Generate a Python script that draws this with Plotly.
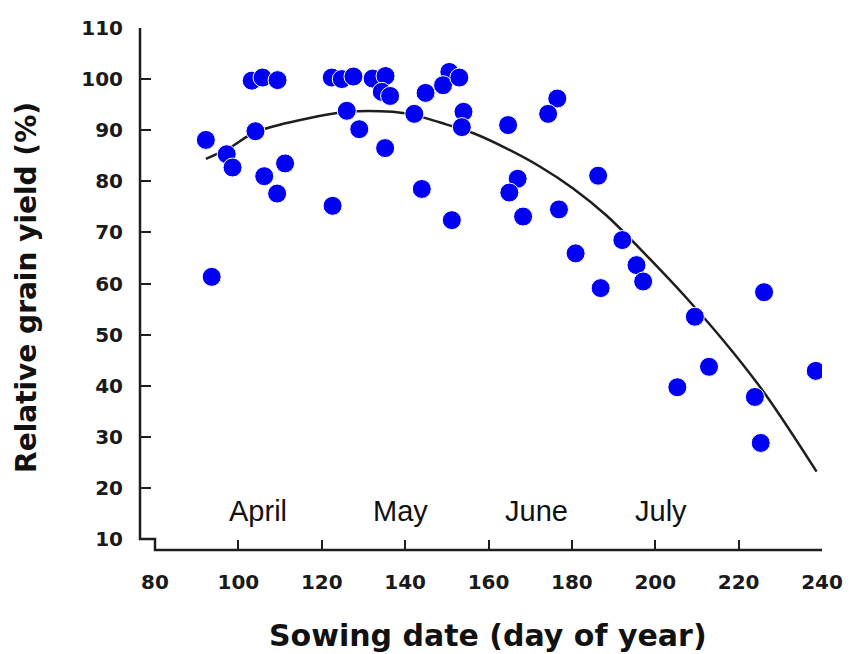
import plotly.graph_objects as go

# ---- data ----
sowing_day = [92.2, 93.6, 97.2, 98.6, 103.2, 105.8, 109.4, 104.1, 106.2, 111.2,
              109.3, 122.6, 122.4, 124.8, 127.6, 126.0, 129.0, 132.2, 135.3, 134.4,
              136.4, 135.2, 144.9, 142.2, 144.0, 150.6, 149.1, 153.0, 154.0, 153.6,
              151.2, 164.7, 176.5, 174.3, 167.0, 165.0, 168.3, 176.9, 186.3, 180.9,
              186.9, 192.1, 195.5, 197.1, 209.5, 205.3, 212.9, 223.9, 225.3, 226.1,
              238.5]
rel_yield = [88.1, 61.3, 85.3, 82.7, 99.7, 100.3, 99.8, 89.8, 81.0, 83.5,
             77.6, 75.2, 100.3, 100.0, 100.5, 93.8, 90.2, 100.1, 100.6, 97.5,
             96.7, 86.5, 97.3, 93.2, 78.5, 101.4, 98.8, 100.3, 93.6, 90.6,
             72.4, 91.0, 96.2, 93.2, 80.5, 77.8, 73.1, 74.5, 81.1, 65.9,
             59.1, 68.5, 63.6, 60.4, 53.5, 39.7, 43.7, 37.8, 28.8, 58.3,
             42.9]

curve_day = [92.2, 98, 104, 116, 126, 137, 142, 148.4, 156.4, 164.4, 172.3,
             180.3, 188.3, 198.7, 209.1, 218.7, 226.7, 238.7]
curve_yield = [84.4, 86.6, 89.6, 92.2, 93.6, 93.6, 93.0, 91.5, 89.4, 86.4, 82.9,
               78.6, 73.3, 64.8, 55.7, 46.5, 38.0, 23.2]

x_ticks = [80, 100, 120, 140, 160, 180, 200, 220, 240]
y_ticks = [10, 20, 30, 40, 50, 60, 70, 80, 90, 100, 110]

month_names = ["April", "May", "June", "July"]
month_pos = [104.7, 138.8, 171.4, 201.4]
month_label_y = 15.5

x_range = [76.4, 240]
y_range = [7.85, 110]

# ---- figure ----
fig = go.Figure()

fig.add_trace(go.Scatter(
    x=curve_day, y=curve_yield, mode="lines",
    line=dict(color="#1e1e1e", width=2.5, shape="spline", smoothing=1.0),
    hoverinfo="skip", showlegend=False))

fig.add_trace(go.Scatter(
    x=sowing_day, y=rel_yield, mode="markers",
    marker=dict(color="#0000f5", size=19, line=dict(color="white", width=1)),
    showlegend=False))

tick_font = dict(family="DejaVu Sans", size=20, color="#1a1a1a", weight="bold")

fig.update_xaxes(range=x_range, tickvals=x_ticks, ticks="inside", ticklen=10,
                 tickwidth=2, tickcolor="#1e1e1e", showline=False, showgrid=False,
                 zeroline=False, tickfont=tick_font, ticklabelstandoff=18,
                 automargin=False)
fig.update_yaxes(range=y_range, tickvals=y_ticks, ticks="inside", ticklen=11,
                 tickwidth=2, tickcolor="#1e1e1e", showline=False, showgrid=False,
                 zeroline=False, tickfont=tick_font, ticklabelstandoff=16,
                 automargin=False)

# axis frame with the small step at the origin (paper coords derived from ranges)
def px_(v):
    return (v - x_range[0]) / (x_range[1] - x_range[0])

def py_(v):
    return (v - y_range[0]) / (y_range[1] - y_range[0])

path = (f"M 0,{py_(110)} L 0,{py_(10)} L {px_(80)},{py_(10)} "
        f"L {px_(80)},0 L {px_(240)},0")
fig.add_shape(type="path", xref="paper", yref="paper", path=path,
              line=dict(color="#1e1e1e", width=2.5), layer="above")

for name, pos in zip(month_names, month_pos):
    fig.add_annotation(x=pos, y=month_label_y, xref="x", yref="y", text=name,
                       showarrow=False, xanchor="center", yanchor="middle",
                       font=dict(family="Liberation Sans", size=29, color="#111111"))

fig.add_annotation(x=0.51, y=-0.163, xref="paper", yref="paper",
                   text="Sowing date (day of year)", showarrow=False,
                   xanchor="center", yanchor="middle",
                   font=dict(family="DejaVu Sans", size=30, color="#111111", weight="bold"))
fig.add_annotation(x=-0.1657, y=0.504, xref="paper", yref="paper",
                   text="Relative grain yield (%)", showarrow=False, textangle=-90,
                   xanchor="center", yanchor="middle",
                   font=dict(family="DejaVu Sans", size=28, color="#111111", weight="bold"))

fig.update_layout(
    width=850, height=654,
    margin=dict(l=140, r=28, t=28, b=104),
    paper_bgcolor="white", plot_bgcolor="white",
    showlegend=False,
)

fig.write_html(
    "out.html",
    config={"displayModeBar": False},
    post_script="document.body.style.margin='0';document.body.style.overflow='hidden';",
)
